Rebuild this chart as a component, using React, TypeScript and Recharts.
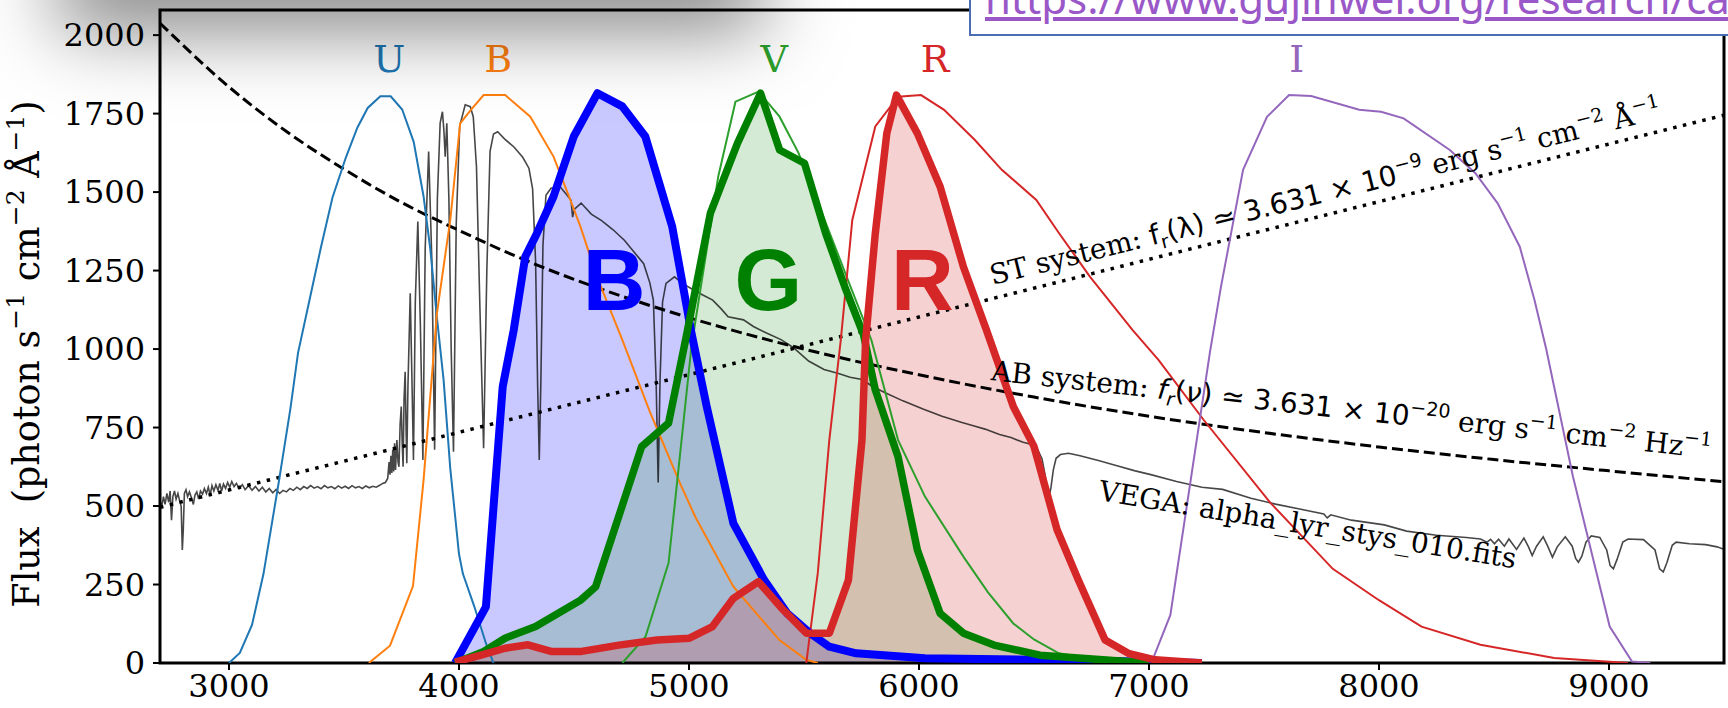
import React from 'react';
import {
  ComposedChart,
  Line,
  Area,
  XAxis,
  YAxis,
  ReferenceDot,
  ReferenceArea,
} from 'recharts';

type Pt = [number, number];

// wavelength (Å), photon flux
const VEGA_SPECTRUM: Pt[] = [
  [2700, 515], [2708, 500], [2715, 530], [2722, 505], [2730, 540], [2738, 512], [2744, 548], [2750, 455],
  [2756, 530], [2763, 548], [2770, 522], [2778, 540], [2786, 515], [2792, 500], [2797, 360], [2801, 420],
  [2806, 540], [2813, 552], [2820, 530], [2828, 545], [2836, 528], [2845, 505], [2852, 535], [2860, 545],
  [2868, 522], [2876, 548], [2885, 538], [2893, 556], [2902, 540], [2910, 560], [2918, 535], [2926, 565],
  [2934, 548], [2943, 568], [2952, 550], [2960, 572], [2968, 548], [2976, 570], [2985, 556], [2994, 575],
  [3003, 560], [3012, 578], [3022, 562], [3032, 572], [3045, 556], [3058, 568], [3070, 552], [3085, 565],
  [3100, 550], [3115, 562], [3130, 548], [3145, 560], [3160, 545], [3175, 556], [3190, 542], [3205, 553],
  [3220, 540], [3235, 550], [3250, 545], [3265, 556], [3280, 550], [3295, 560], [3310, 552], [3325, 562],
  [3340, 556], [3355, 565], [3370, 557], [3385, 562], [3400, 555], [3415, 565], [3430, 558], [3445, 562],
  [3460, 555], [3475, 564], [3490, 557], [3505, 563], [3520, 556], [3535, 565], [3550, 558], [3565, 562],
  [3580, 556], [3595, 564], [3610, 558], [3625, 563], [3640, 560], [3655, 566], [3668, 572], [3680, 575],
  [3690, 588], [3696, 640], [3700, 600], [3704, 660], [3708, 605], [3712, 680], [3716, 610], [3720, 700],
  [3724, 615], [3730, 710], [3735, 640], [3739, 625], [3744, 760], [3749, 817], [3753, 700], [3757, 625],
  [3761, 840], [3766, 928], [3770, 740], [3773, 636], [3778, 880], [3788, 1178], [3796, 880], [3802, 647],
  [3810, 1150], [3821, 1406], [3832, 1080], [3843, 647], [3853, 1320], [3868, 1629], [3882, 1280], [3894, 679],
  [3906, 1480], [3918, 1720], [3928, 1756], [3934, 1700], [3940, 1613], [3947, 1719], [3956, 1480], [3966, 1000],
  [3976, 673], [3988, 1400], [4003, 1710], [4027, 1778], [4049, 1772], [4062, 1740], [4076, 1580], [4091, 1130],
  [4107, 684], [4121, 1250], [4135, 1630], [4150, 1685], [4168, 1692], [4200, 1668], [4240, 1643], [4277, 1611],
  [4304, 1576], [4320, 1510], [4333, 1280], [4342, 880], [4349, 647], [4356, 900], [4365, 1330], [4378, 1490],
  [4400, 1512], [4440, 1517], [4470, 1490], [4487, 1474], [4494, 1420], [4501, 1445], [4531, 1465], [4575, 1430],
  [4620, 1409], [4670, 1380], [4720, 1346], [4760, 1310], [4803, 1272], [4830, 1210], [4845, 1156], [4857, 900],
  [4866, 575], [4874, 900], [4885, 1150], [4900, 1209], [4937, 1230], [4970, 1210], [5020, 1188], [5060, 1172],
  [5103, 1156], [5140, 1128], [5170, 1103], [5237, 1093], [5280, 1072], [5337, 1051], [5400, 1030], [5453, 1005],
  [5520, 962], [5587, 935], [5650, 922], [5700, 910], [5753, 903], [5800, 880], [5853, 861], [5930, 835],
  [6020, 808], [6100, 786], [6187, 766], [6240, 755], [6287, 745], [6350, 728], [6400, 718], [6453, 703],
  [6490, 696], [6515, 682], [6535, 650], [6548, 600], [6558, 548], [6566, 530], [6574, 560], [6584, 615],
  [6596, 652], [6615, 664], [6650, 668], [6700, 660], [6780, 645], [6853, 630], [6940, 612], [7008, 600],
  [7120, 578], [7230, 560], [7320, 553], [7443, 525], [7550, 506], [7660, 490], [7760, 475], [7775, 462],
  [7790, 472], [7880, 455], [8023, 440], [8120, 420], [8250, 407], [8380, 400], [8441, 395], [8470, 385],
  [8485, 394], [8502, 380], [8520, 394], [8545, 372], [8565, 395], [8598, 362], [8630, 398], [8650, 370],
  [8666, 342], [8685, 372], [8714, 402], [8735, 370], [8754, 337], [8775, 370], [8810, 402], [8840, 372],
  [8855, 333], [8867, 321], [8882, 340], [8900, 385], [8923, 405], [8960, 400], [8990, 360], [9005, 310],
  [9019, 300], [9035, 330], [9060, 385], [9083, 395], [9150, 393], [9200, 360], [9220, 300], [9236, 290],
  [9252, 320], [9275, 375], [9292, 385], [9350, 380], [9420, 377], [9470, 370], [9500, 362],
];

// constant f_nu reference (dashed)
const AB_SYSTEM: Pt[] = [
  [2700, 2038], [3000, 1835], [3250, 1693], [3500, 1573], [3750, 1467], [4000, 1378], [4250, 1295],
  [4500, 1222], [4750, 1158], [5000, 1100], [5500, 1000], [6000, 918], [6500, 847], [7000, 786],
  [7500, 734], [8000, 688], [8500, 648], [9000, 612], [9500, 577],
];

// constant f_lambda reference (dotted)
const ST_SYSTEM: Pt[] = [[2700, 496], [9500, 1745]];

// Johnson-Cousins filter curves
const U_FILTER: Pt[] = [
  [3000, 0], [3047, 32], [3100, 121], [3150, 284], [3217, 579], [3267, 810], [3300, 987], [3350, 1156],
  [3400, 1325], [3450, 1483], [3508, 1610], [3558, 1705], [3603, 1768], [3658, 1805], [3703, 1805],
  [3753, 1763], [3803, 1660], [3846, 1486], [3875, 1320], [3904, 1100], [3933, 902], [3962, 620],
  [4000, 347], [4017, 284], [4067, 179], [4117, 63], [4150, 0],
];
const B_FILTER: Pt[] = [
  [3608, 0], [3700, 55], [3800, 245], [3846, 583], [3904, 1114], [3962, 1411], [4005, 1719], [4050, 1760],
  [4107, 1809], [4201, 1809], [4310, 1740], [4411, 1613], [4484, 1475], [4528, 1390], [4600, 1230],
  [4710, 1029], [4830, 800], [4961, 572], [5027, 466], [5193, 243], [5393, 73], [5510, 10], [5560, 0],
];
const V_FILTER: Pt[] = [
  [4710, 0], [4811, 84], [4911, 318], [5011, 1010], [5127, 1549], [5202, 1788], [5302, 1820], [5393, 1741],
  [5476, 1625], [5600, 1392], [5700, 1203], [5793, 1029], [5909, 710], [6026, 530], [6193, 339],
  [6300, 225], [6410, 126], [6500, 75], [6608, 31], [6750, 12], [6891, 4], [7000, 0],
];
const R_FILTER: Pt[] = [
  [5510, 0], [5560, 287], [5610, 710], [5660, 1029], [5710, 1411], [5810, 1709], [5909, 1804], [6009, 1809],
  [6109, 1762], [6243, 1666], [6360, 1571], [6510, 1475], [6609, 1369], [6743, 1231], [6928, 1061],
  [7042, 965], [7238, 774], [7527, 511], [7799, 300], [8000, 200], [8185, 116], [8441, 58], [8762, 16],
  [9083, 0],
];
const I_FILTER: Pt[] = [
  [7010, 0], [7093, 153], [7265, 990], [7313, 1199], [7409, 1571], [7513, 1740], [7609, 1809], [7705, 1806],
  [7914, 1762], [8009, 1756], [8107, 1735], [8308, 1634], [8419, 1560], [8516, 1464], [8612, 1326],
  [8676, 1156], [8727, 1000], [8843, 595], [9003, 116], [9100, 5], [9180, 0],
];

// camera RGB responses
const CAM_B: Pt[] = [
  [3983, 0], [4117, 179], [4190, 880], [4238, 1061], [4288, 1294], [4339, 1369], [4411, 1486], [4499, 1677],
  [4602, 1815], [4710, 1773], [4810, 1677], [4927, 1390], [5011, 1050], [5077, 817], [5193, 445], [5327, 264],
  [5427, 158], [5527, 95], [5610, 52], [5727, 31], [6026, 15], [6525, 10], [7000, 4], [7230, 0],
];
const CAM_G: Pt[] = [
  [3983, 0], [4108, 37], [4200, 79], [4333, 116], [4530, 201], [4594, 243], [4794, 689], [4911, 764],
  [4985, 1029], [5093, 1433], [5211, 1656], [5311, 1815], [5394, 1634], [5502, 1592], [5594, 1369],
  [5677, 1199], [5759, 1045], [5810, 870], [5909, 657], [5993, 360], [6092, 158], [6193, 95], [6326, 57],
  [6526, 25], [6860, 7], [7000, 0],
];
const CAM_R: Pt[] = [
  [3983, 3], [4100, 26], [4200, 47], [4300, 58], [4400, 37], [4533, 37], [4695, 57], [4861, 73], [5002, 79],
  [5102, 116], [5193, 206], [5302, 259], [5410, 169], [5510, 95], [5610, 95], [5693, 264], [5752, 710],
  [5768, 1029], [5810, 1369], [5860, 1687], [5902, 1809], [5993, 1687], [6092, 1517], [6193, 1262],
  [6293, 1061], [6410, 817], [6500, 690], [6600, 425], [6693, 264], [6809, 73], [6910, 31], [7026, 10],
  [7230, 0],
];

const X_TICKS = [3000, 4000, 5000, 6000, 7000, 8000, 9000];
const Y_TICKS = [0, 250, 500, 750, 1000, 1250, 1500, 1750, 2000];

const BAND_NAMES = ['U', 'B', 'V', 'R', 'I'];
const BAND_LABEL_WL = [3697, 4171, 5371, 6070, 7642];
const BAND_LABEL_FLUX = 1883;

const CAM_NAMES = ['B', 'G', 'R'];
const CAM_LABEL_WL = [4675, 5345, 6015];
const CAM_LABEL_FLUX = 1124;

const BAND_COLORS = ['#1f77b4', '#ff7f0e', '#2ca02c', '#d62728', '#9467bd'];
const CAM_COLORS = ['#0000ff', '#008000', '#d62728'];

const W = 1728;
const H = 708;
const SERIF = 'DejaVu Serif';
const SANS = 'DejaVu Sans';

const rows = (pts: Pt[]) => pts.map(([wl, flux]) => ({ wl, flux }));

const FluxLabel = (props: any) => {
  const vb = props.viewBox || { x: 0, y: 10, width: 160, height: 653 };
  const x = vb.x + 39;
  const y = vb.y + 344;
  const up = -15;
  return (
    <text
      x={x}
      y={y}
      transform={`rotate(-90 ${x} ${y})`}
      textAnchor="middle"
      fontFamily={SERIF}
      fontSize={36.5}
      fill="#000"
      style={{ whiteSpace: 'pre' }}
    >
      <tspan>{'Flux  (photon s'}</tspan>
      <tspan fontSize={25} dy={up}>−1</tspan>
      <tspan dy={-up}>{' cm'}</tspan>
      <tspan fontSize={25} dy={up}>−2</tspan>
      <tspan dy={-up}>{' Å'}</tspan>
      <tspan fontSize={25} dy={up}>−1</tspan>
      <tspan dy={-up}>)</tspan>
    </text>
  );
};

const noteStyle = { whiteSpace: 'pre' as const };

const StNote = ({ cx, cy }: any) => (
  <text x={cx} y={cy} transform={`rotate(-14 ${cx} ${cy})`} fontFamily={SERIF} fontSize={28} fill="#000" style={noteStyle}>
    <tspan>{'ST system: '}</tspan>
    <tspan fontFamily={SANS}>f</tspan>
    <tspan fontFamily={SANS} fontSize={19} dy={6}>r</tspan>
    <tspan fontFamily={SANS} dy={-6}>{'(λ) ≃ 3.631 × 10'}</tspan>
    <tspan fontFamily={SANS} fontSize={19} dy={-12}>−9</tspan>
    <tspan dy={12}>{' erg s'}</tspan>
    <tspan fontSize={19} dy={-12}>−1</tspan>
    <tspan dy={12}>{' cm'}</tspan>
    <tspan fontSize={19} dy={-12}>−2</tspan>
    <tspan dy={12}>{' Å'}</tspan>
    <tspan fontSize={19} dy={-12}>−1</tspan>
  </text>
);

const AbNote = ({ cx, cy }: any) => (
  <text x={cx} y={cy} transform={`rotate(6.2 ${cx} ${cy})`} fontFamily={SERIF} fontSize={28} fill="#000" style={noteStyle}>
    <tspan>{'AB system: '}</tspan>
    <tspan fontFamily={SANS} fontStyle="italic">f</tspan>
    <tspan fontFamily={SANS} fontStyle="italic" fontSize={19} dy={6}>r</tspan>
    <tspan fontFamily={SANS} dy={-6}>(</tspan>
    <tspan fontFamily={SANS} fontStyle="italic">ν</tspan>
    <tspan fontFamily={SANS}>{') ≃ 3.631 × 10'}</tspan>
    <tspan fontFamily={SANS} fontSize={19} dy={-12}>−20</tspan>
    <tspan dy={12}>{' erg s'}</tspan>
    <tspan fontSize={19} dy={-12}>−1</tspan>
    <tspan dy={12}>{' cm'}</tspan>
    <tspan fontSize={19} dy={-12}>−2</tspan>
    <tspan dy={12}>{' Hz'}</tspan>
    <tspan fontSize={19} dy={-12}>−1</tspan>
  </text>
);

const VegaNote = ({ cx, cy }: any) => (
  <text x={cx} y={cy} transform={`rotate(9.3 ${cx} ${cy})`} fontFamily={SERIF} fontSize={28} fill="#000">
    VEGA: alpha_lyr_stys_010.fits
  </text>
);

const thin = (pts: Pt[], color: string, key: string) => (
  <Line
    key={key}
    data={rows(pts)}
    dataKey="flux"
    type="linear"
    stroke={color}
    strokeWidth={2}
    dot={false}
    activeDot={false}
    isAnimationActive={false}
  />
);

export default function App() {
  const filters = [U_FILTER, B_FILTER, V_FILTER, R_FILTER, I_FILTER];
  const cams = [CAM_B, CAM_G, CAM_R];
  return (
    <div style={{ position: 'absolute', left: 0, top: 0, width: W, height: H, overflow: 'hidden', background: '#fff' }}>
      <ComposedChart width={W} height={H} margin={{ top: 10, right: 4, bottom: 0, left: 0 }}>
        <XAxis
          type="number"
          dataKey="wl"
          domain={[2700, 9500]}
          ticks={X_TICKS}
          interval={0}
          allowDataOverflow
          axisLine={false}
          tickLine={{ stroke: '#000', strokeWidth: 2 }}
          tickSize={7}
          tickMargin={4}
          height={45}
          tick={{ fontSize: 32, fontFamily: SERIF, fill: '#000' }}
        />
        <YAxis
          type="number"
          domain={[0, 2080]}
          ticks={Y_TICKS}
          interval={0}
          allowDataOverflow
          axisLine={false}
          tickLine={{ stroke: '#000', strokeWidth: 2 }}
          tickSize={7}
          tickMargin={8}
          width={160}
          tick={{ fontSize: 32, fontFamily: SERIF, fill: '#000' }}
          label={{ content: FluxLabel }}
        />

        {cams.map((pts, i) => (
          <Area
            key={`fill-${i}`}
            data={rows(pts)}
            dataKey="flux"
            type="linear"
            stroke="none"
            fill={CAM_COLORS[i]}
            fillOpacity={i === 1 ? 0.17 : 0.21}
            dot={false}
            activeDot={false}
            isAnimationActive={false}
          />
        ))}

        <Line
          data={rows(VEGA_SPECTRUM)}
          dataKey="flux"
          type="linear"
          stroke="#000"
          strokeOpacity={0.72}
          strokeWidth={1.6}
          dot={false}
          activeDot={false}
          isAnimationActive={false}
        />
        <Line
          data={rows(AB_SYSTEM)}
          dataKey="flux"
          type="monotone"
          stroke="#000"
          strokeWidth={3}
          strokeDasharray="11 5"
          dot={false}
          activeDot={false}
          isAnimationActive={false}
        />
        <Line
          data={rows(ST_SYSTEM)}
          dataKey="flux"
          type="linear"
          stroke="#000"
          strokeWidth={3.5}
          strokeDasharray="3.5 6.5"
          dot={false}
          activeDot={false}
          isAnimationActive={false}
        />

        {filters.map((pts, i) => thin(pts, BAND_COLORS[i], `band-${i}`))}

        {cams.map((pts, i) => (
          <Line
            key={`cam-${i}`}
            data={rows(pts)}
            dataKey="flux"
            type="linear"
            stroke={CAM_COLORS[i]}
            strokeWidth={i === 0 ? 8 : 7.5}
            strokeLinejoin="round"
            dot={false}
            activeDot={false}
            isAnimationActive={false}
          />
        ))}

        <ReferenceArea
          x1={2700}
          x2={9500}
          y1={0}
          y2={2080}
          fill="none"
          stroke="#000"
          strokeWidth={3}
          ifOverflow="visible"
        />

        {BAND_NAMES.map((name, i) => (
          <ReferenceDot
            key={`bl-${i}`}
            x={BAND_LABEL_WL[i]}
            y={BAND_LABEL_FLUX}
            r={0}
            shape={(p: any) => (
              <text x={p.cx} y={p.cy} textAnchor="middle" fontFamily={SERIF} fontSize={38} fill={BAND_COLORS[i]}>
                {name}
              </text>
            )}
          />
        ))}
        {CAM_NAMES.map((name, i) => (
          <ReferenceDot
            key={`cl-${i}`}
            x={CAM_LABEL_WL[i]}
            y={CAM_LABEL_FLUX}
            r={0}
            shape={(p: any) => (
              <text
                x={p.cx}
                y={p.cy}
                textAnchor="middle"
                fontFamily="Liberation Sans, Arial, sans-serif"
                fontWeight="bold"
                fontSize={87}
                fill={CAM_COLORS[i]}
              >
                {name}
              </text>
            )}
          />
        ))}
        <ReferenceDot x={6320} y={1204} r={0} shape={(p: any) => <StNote cx={p.cx} cy={p.cy} />} />
        <ReferenceDot x={6311} y={901} r={0} shape={(p: any) => <AbNote cx={p.cx} cy={p.cy} />} />
        <ReferenceDot x={6777} y={519} r={0} shape={(p: any) => <VegaNote cx={p.cx} cy={p.cy} />} />
      </ComposedChart>

      {/* soft shadow cast from above */}
      <div
        style={{
          position: 'absolute',
          left: 70,
          top: -60,
          width: 680,
          height: 60,
          background: '#888',
          boxShadow: '0 15px 80px 12px rgba(0,0,0,0.52)',
          pointerEvents: 'none',
        }}
      />

      {/* link box over the top-right corner */}
      <div
        style={{
          position: 'absolute',
          left: 969,
          top: -10,
          width: 800,
          height: 46,
          boxSizing: 'border-box',
          border: '2px solid #4a6db3',
          background: '#fff',
          overflow: 'hidden',
        }}
      >
        <span
          style={{
            position: 'absolute',
            left: 14,
            top: -15,
            fontFamily: 'Noto Sans, sans-serif',
            fontSize: 42,
            lineHeight: '42px',
            color: '#9a57c8',
            textDecoration: 'underline',
            whiteSpace: 'nowrap',
          }}
        >
          https://www.gujinwei.org/research/camspec/
        </span>
      </div>
    </div>
  );
}
